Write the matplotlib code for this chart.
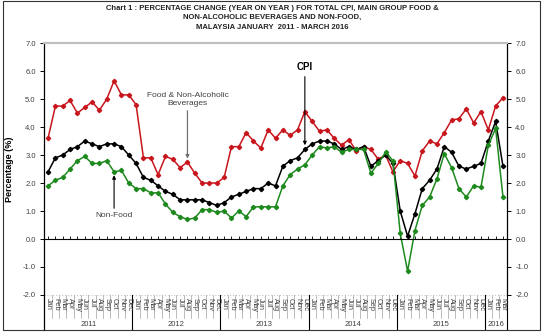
import matplotlib.pyplot as plt
from matplotlib.patches import Rectangle

# Year-on-year % change, Jan 2011 - Mar 2016
months = ["Jan", "Feb", "Mar", "Apr", "May", "Jun",
          "Jul", "Aug", "Sep", "Oct", "Nov", "Dec"] * 5 + ["Jan", "Feb", "Mar"]
years = ["2011", "2012", "2013", "2014", "2015", "2016"]

cpi = [2.4, 2.9, 3.0, 3.2, 3.3, 3.5, 3.4, 3.3, 3.4, 3.4, 3.3, 3.0,
       2.7, 2.2, 2.1, 1.9, 1.7, 1.6, 1.4, 1.4, 1.4, 1.4, 1.3, 1.2,
       1.3, 1.5, 1.6, 1.7, 1.8, 1.8, 2.0, 1.9, 2.6, 2.8, 2.9, 3.2,
       3.4, 3.5, 3.5, 3.4, 3.2, 3.3, 3.2, 3.3, 2.6, 2.8, 3.0, 2.7,
       1.0, 0.1, 0.9, 1.8, 2.1, 2.5, 3.3, 3.1, 2.6, 2.5, 2.6, 2.7,
       3.5, 4.2, 2.6]
food = [3.6, 4.75, 4.75, 4.95, 4.5, 4.7, 4.9, 4.6, 5.0, 5.65, 5.15, 5.15,
        4.8, 2.9, 2.9, 2.3, 2.95, 2.85, 2.55, 2.75, 2.35, 2.0, 2.0, 2.0,
        2.2, 3.3, 3.3, 3.8, 3.5, 3.25, 3.9, 3.6, 3.9, 3.7, 3.9, 4.55,
        4.2, 3.85, 3.9, 3.6, 3.35, 3.55, 3.15, 3.3, 3.2, 2.85, 3.0, 2.4,
        2.8, 2.7, 2.25, 3.15, 3.5, 3.4, 3.8, 4.25, 4.3, 4.65, 4.15, 4.55,
        3.9, 4.75, 5.05]
nonfood = [1.9, 2.1, 2.2, 2.5, 2.8, 2.95, 2.7, 2.7, 2.8, 2.4, 2.45, 2.0,
           1.8, 1.8, 1.65, 1.65, 1.25, 0.95, 0.8, 0.7, 0.75, 1.05, 1.05, 0.95,
           1.0, 0.75, 1.0, 0.8, 1.15, 1.15, 1.15, 1.15, 1.9, 2.3, 2.5, 2.65,
           3.0, 3.3, 3.25, 3.3, 3.1, 3.2, 3.2, 3.2, 2.35, 2.7, 3.1, 2.8,
           0.2, -1.15, 0.3, 1.2, 1.5, 2.15, 3.05, 2.55, 1.8, 1.5, 1.9, 1.85,
           3.35, 3.95, 1.5]
yticks = [-2.0, -1.0, 0.0, 1.0, 2.0, 3.0, 4.0, 5.0, 6.0, 7.0]

FONT = ["Liberation Sans Narrow", "Liberation Sans", "DejaVu Sans"]
plt.rcParams["font.family"] = FONT

RED = "#c8161d"
GREEN = "#1e8a1e"
GREY_TXT = "#404040"

x = list(range(len(months)))

fig = plt.figure(figsize=(5.44, 3.34), dpi=100)
ax = fig.add_axes([0.0809, 0.1168, 0.932 - 0.0809, 0.871 - 0.1168])

# outer frame of the chart
fig.patches.append(Rectangle((0.0055, 0.012), 0.987, 0.985, transform=fig.transFigure,
                             fill=False, edgecolor="#333333", linewidth=0.8))

kw = dict(linewidth=1.1, marker="D", markersize=2.2)
ax.plot(x, food, color=RED, **kw)
ax.plot(x, cpi, color="black", **kw)
ax.plot(x, nonfood, color=GREEN, **kw)

ax.set_xlim(-0.55, len(months) - 0.45)
ax.set_ylim(-2, 7)
ax.set_yticks(yticks)
ax.set_yticklabels([f"{v:.1f}" for v in yticks])
ax.tick_params(axis="y", labelsize=5.5, labelcolor=GREY_TXT, length=3, width=0.7,
               right=True, labelright=True, pad=3)

# x axis line sits at zero with small month ticks
ax.spines["bottom"].set_position(("data", 0))
ax.set_xticks(x)
ax.set_xticklabels([])
ax.tick_params(axis="x", direction="in", length=2.5, width=0.6)
ax.spines["top"].set_color("#c0c0c0")
ax.spines["top"].set_linewidth(1.6)
ax.axhline(-2, color="#c8c8c8", linewidth=0.8, linestyle=":", clip_on=False)
for s in ["left", "right"]:
    ax.spines[s].set_linewidth(0.9)

ax.set_ylabel("Percentage (%)", fontsize=6.5, fontweight="bold", labelpad=6)

# month labels and separators below the plot
tr = ax.get_xaxis_transform()
for i, m in enumerate(months):
    ax.text(i, -0.01, m, transform=tr, rotation=270, ha="center", va="top",
            fontsize=5.3, color=GREY_TXT)
    ax.plot([i + 0.5, i + 0.5], [0, -0.092], transform=tr, color="#a0a0a0",
            linewidth=0.5, clip_on=False)

# year labels and separators
ybot = -0.139
start = 0
for k, yr in enumerate(years):
    n = 12 if k < len(years) - 1 else len(months) - 12 * k
    ax.text(start + (n - 1) / 2, -0.118, yr, transform=tr, ha="center", va="center",
            fontsize=5.5, color=GREY_TXT)
    start += n
    ax.plot([start - 0.5, start - 0.5], [0, ybot], transform=tr, color="black",
            linewidth=0.8, clip_on=False)
ax.plot([-0.55, -0.55], [0, ybot], transform=tr, color="black", linewidth=0.9, clip_on=False)

# annotations
ax.annotate("Food & Non-Alcoholic\nBeverages", xy=(19, food[19] + 0.12), xytext=(19, 4.73),
            ha="center", va="bottom", fontsize=6, color=GREY_TXT, linespacing=1.05,
            arrowprops=dict(arrowstyle="-|>", color="#707070", lw=0.9,
                            mutation_scale=5, shrinkA=1, shrinkB=0))
ax.annotate("CPI", xy=(35, cpi[35] + 0.15), xytext=(35, 5.95),
            ha="center", va="bottom", fontsize=7, fontweight="bold", color="black",
            arrowprops=dict(arrowstyle="-|>", color="black", lw=0.8,
                            mutation_scale=5, shrinkA=1, shrinkB=0))
ax.annotate("Non-Food", xy=(9, nonfood[9] - 0.12), xytext=(9, 0.95),
            ha="center", va="top", fontsize=6, color=GREY_TXT,
            arrowprops=dict(arrowstyle="-|>", color="black", lw=0.8,
                            mutation_scale=5, shrinkA=1, shrinkB=0))

fig.text(0.5, 0.985, "Chart 1 : PERCENTAGE CHANGE (YEAR ON YEAR ) FOR TOTAL CPI, MAIN GROUP FOOD &\n"
         "NON-ALCOHOLIC BEVERAGES AND NON-FOOD,\nMALAYSIA JANUARY  2011 - MARCH 2016",
         ha="center", va="top", fontsize=5.5, fontweight="bold", color="#222222",
         linespacing=1.45)

fig.savefig("out.png", dpi=100)
